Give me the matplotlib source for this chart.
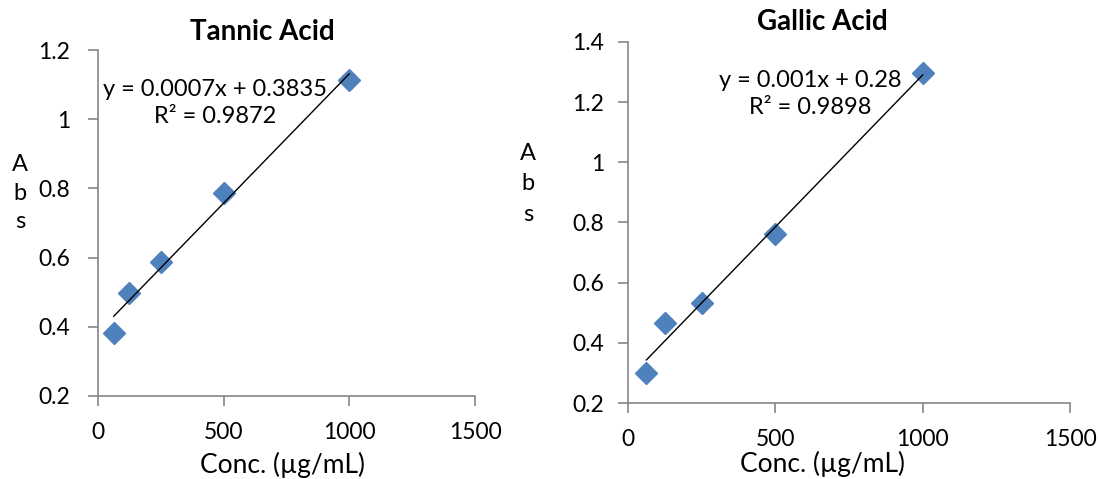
import numpy as np
import matplotlib.pyplot as plt

plt.rcParams['font.family'] = ['Lato', 'DejaVu Sans']

conc = [62.5, 125, 250, 500, 1000]
tannic_abs = [0.382, 0.498, 0.587, 0.787, 1.113]
gallic_abs = [0.300, 0.466, 0.532, 0.763, 1.297]

tannic_eq = "y = 0.0007x + 0.3835\nR² = 0.9872"
gallic_eq = "y = 0.001x + 0.28\nR² = 0.9898"

blue = '#4F81BD'
grey = '#868686'
W, H = 1098, 479


def panel(ax, x, y, eq, ylim, yticks, eq_pos, ypad):
    x = np.array(x)
    y = np.array(y)
    m, b = np.polyfit(x, y, 1)
    xs = np.array([x.min(), x.max()])
    ax.plot(xs, m * xs + b, color='black', lw=1, zorder=3)
    ax.plot(x, y, 'D', color=blue, markersize=11, markeredgecolor=blue, zorder=2, clip_on=False)
    ax.set_xlim(0, 1500)
    ax.set_ylim(*ylim)
    ax.set_xticks([0, 500, 1000, 1500])
    ax.set_yticks(yticks)
    ax.set_yticklabels([f"{v:g}" for v in yticks])
    for s in ['top', 'right']:
        ax.spines[s].set_visible(False)
    for s in ['left', 'bottom']:
        ax.spines[s].set_color(grey)
        ax.spines[s].set_linewidth(1.2)
    ax.tick_params(direction='out', length=7, width=1.2, color=grey, labelsize=16.5)
    ax.tick_params(axis='x', pad=12)
    ax.tick_params(axis='y', pad=ypad)
    ax.text(eq_pos[0], eq_pos[1], eq, transform=ax.transAxes, ha='center', va='center',
            fontsize=17, linespacing=1.35)


fig = plt.figure(figsize=(W / 100, H / 100), dpi=100)
ax1 = fig.add_axes([98 / W, 1 - 396 / H, 377 / W, 346 / H])
ax2 = fig.add_axes([628 / W, 1 - 403 / H, 442 / W, 361 / H])

panel(ax1, conc, tannic_abs, tannic_eq, (0.2, 1.2),
      [0.2, 0.4, 0.6, 0.8, 1.0, 1.2], (0.31, 0.846), 13)
panel(ax2, conc, gallic_abs, gallic_eq, (0.2, 1.4),
      [0.2, 0.4, 0.6, 0.8, 1.0, 1.2, 1.4], (0.412, 0.856), 10)

fig.text(262 / W, 1 - 32 / H, "Tannic Acid", ha='center', va='center', fontsize=20, fontweight='bold')
fig.text(822 / W, 1 - 22 / H, "Gallic Acid", ha='center', va='center', fontsize=20, fontweight='bold')

fig.text(282 / W, 1 - 465 / H, "Conc. (µg/mL)", ha='center', va='center', fontsize=19)
fig.text(822 / W, 1 - 464 / H, "Conc. (µg/mL)", ha='center', va='center', fontsize=19)

fig.text(20 / W, 1 - 193 / H, "A\nb\ns", ha='center', va='center', fontsize=17, linespacing=1.45)
fig.text(528 / W, 1 - 184 / H, "A\nb\ns", ha='center', va='center', fontsize=17, linespacing=1.55)

fig.savefig("out.png", dpi=100)
